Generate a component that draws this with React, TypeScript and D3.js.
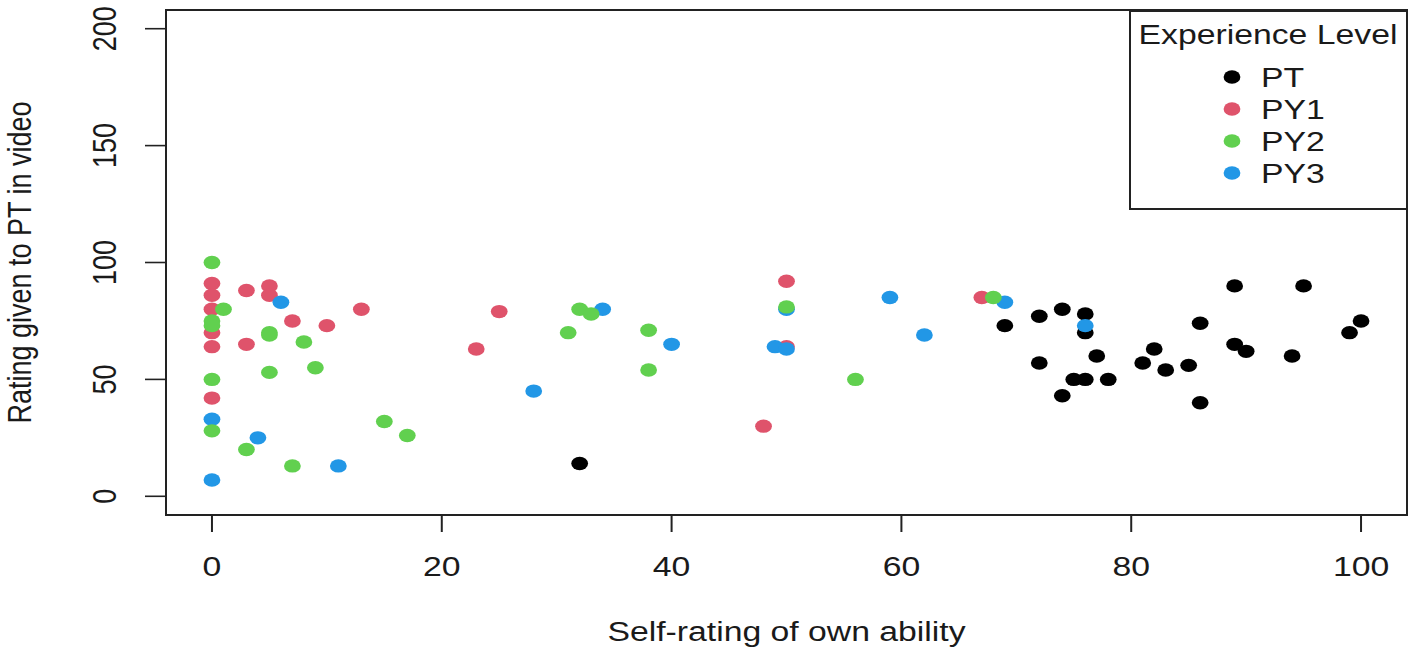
import React, { useRef, useEffect } from "react";
import * as d3 from "d3";

type Pt = [number, number];

// series values: [self-rating, rating given]
const ptPoints: Pt[] = [
  [32, 14], [69, 73], [72, 77], [74, 80], [76, 78], [76, 70], [72, 57], [77, 60],
  [75, 50], [76, 50], [78, 50], [74, 43], [81, 57], [82, 63], [83, 54], [85, 56],
  [86, 74], [86, 40], [89, 90], [95, 90], [89, 65], [90, 62], [94, 60], [100, 75], [99, 70],
];
const py1Points: Pt[] = [
  [0, 91], [0, 86], [0, 80], [0, 70], [0, 64], [0, 42], [3, 88], [5, 90], [5, 86],
  [13, 80], [7, 75], [10, 73], [3, 65], [25, 79], [23, 63], [50, 92], [50, 64], [48, 30], [67, 85],
];
const py3Points: Pt[] = [
  [0, 33], [0, 7], [6, 83], [4, 25], [11, 13], [34, 80], [40, 65], [28, 45],
  [50, 80], [49, 64], [50, 63], [59, 85], [62, 69], [69, 83], [76, 73],
];
const py2Points: Pt[] = [
  [0, 100], [0, 75], [0, 73], [0, 50], [0, 28], [1, 80], [5, 70], [5, 69], [8, 66],
  [5, 53], [9, 55], [15, 32], [17, 26], [3, 20], [7, 13], [32, 80], [33, 78], [31, 70],
  [38, 71], [38, 54], [50, 81], [56, 50], [68, 85],
];

const legendLabels = ["PT", "PY1", "PY2", "PY3"];
const legendColors = ["#000000", "#DF536B", "#61D04F", "#2297E6"];
const xTicks = [0, 20, 40, 60, 80, 100];
const yTicks = [0, 50, 100, 150, 200];

// draw order (later on top)
const drawOrder: { pts: Pt[]; color: string }[] = [
  { pts: ptPoints, color: legendColors[0] },
  { pts: py1Points, color: legendColors[1] },
  { pts: py3Points, color: legendColors[3] },
  { pts: py2Points, color: legendColors[2] },
];

const App: React.FC = () => {
  const svgRef = useRef<SVGSVGElement | null>(null);

  const width = 1417;
  const height = 657;
  const stretch = 1.25; // the picture is wider than tall
  const font = "'Liberation Sans', Arial, Helvetica, sans-serif";
  const fontSize = 27;
  const ink = "#1a1a1a";

  const xScale = d3.scaleLinear().domain([-4, 104]).range([166, 1407]);
  const yScale = d3.scaleLinear().domain([-8, 208]).range([515, 10]);

  useEffect(() => {
    if (!svgRef.current) return;
    const svg = d3.select(svgRef.current);
    svg.selectAll("*").remove();

    const addText = (
      txt: string, x: number, y: number, anchor: string, rotate = false
    ) => {
      svg.append("text")
        .attr("transform", `translate(${x},${y}) scale(${stretch},1)${rotate ? " rotate(-90)" : ""}`)
        .attr("text-anchor", anchor)
        .attr("font-family", font)
        .attr("font-size", fontSize)
        .attr("fill", ink)
        .text(txt);
    };

    // points
    drawOrder.forEach((s) => {
      svg.append("g").selectAll("ellipse").data(s.pts).enter().append("ellipse")
        .attr("cx", (d) => xScale(d[0]))
        .attr("cy", (d) => yScale(d[1]))
        .attr("rx", 8.4)
        .attr("ry", 6.7)
        .attr("fill", s.color);
    });

    // plot box
    const [x0, x1] = xScale.range();
    const [y0, y1] = yScale.range();
    svg.append("rect")
      .attr("x", x0).attr("y", y1)
      .attr("width", x1 - x0).attr("height", y0 - y1)
      .attr("fill", "none").attr("stroke", "#222").attr("stroke-width", 2);

    // x axis
    svg.selectAll(".xt").data(xTicks).enter().append("line")
      .attr("class", "xt")
      .attr("x1", (d) => xScale(d)).attr("x2", (d) => xScale(d))
      .attr("y1", y0).attr("y2", y0 + 17)
      .attr("stroke", "#222").attr("stroke-width", 2);
    xTicks.forEach((t) => addText(String(t), xScale(t), 576, "middle"));

    // y axis
    svg.selectAll(".yt").data(yTicks).enter().append("line")
      .attr("class", "yt")
      .attr("x1", x0 - 21).attr("x2", x0)
      .attr("y1", (d) => yScale(d)).attr("y2", (d) => yScale(d))
      .attr("stroke", "#222").attr("stroke-width", 1.6);
    yTicks.forEach((t) => addText(String(t), 116, yScale(t), "middle", true));

    // axis titles
    addText("Self-rating of own ability", (x0 + x1) / 2, 641, "middle");
    addText("Rating given to PT in video", 31, (y0 + y1) / 2, "middle", true);

    // legend
    svg.append("rect")
      .attr("x", 1130).attr("y", 11)
      .attr("width", x1 - 1130).attr("height", 198)
      .attr("fill", "white").attr("stroke", "#222").attr("stroke-width", 2);
    addText("Experience Level", 1268, 44, "middle");
    legendLabels.forEach((lab, i) => {
      const base = 87 + i * 32;
      svg.append("ellipse")
        .attr("cx", 1232).attr("cy", base - 10)
        .attr("rx", 8.4).attr("ry", 6.7)
        .attr("fill", legendColors[i]);
      addText(lab, 1261, base, "start");
    });
  }, []);

  return (
    <div style={{ position: "absolute", left: 0, top: 0 }}>
      <svg ref={svgRef} width={width} height={height} style={{ display: "block", background: "white" }} />
    </div>
  );
};

export default App;
